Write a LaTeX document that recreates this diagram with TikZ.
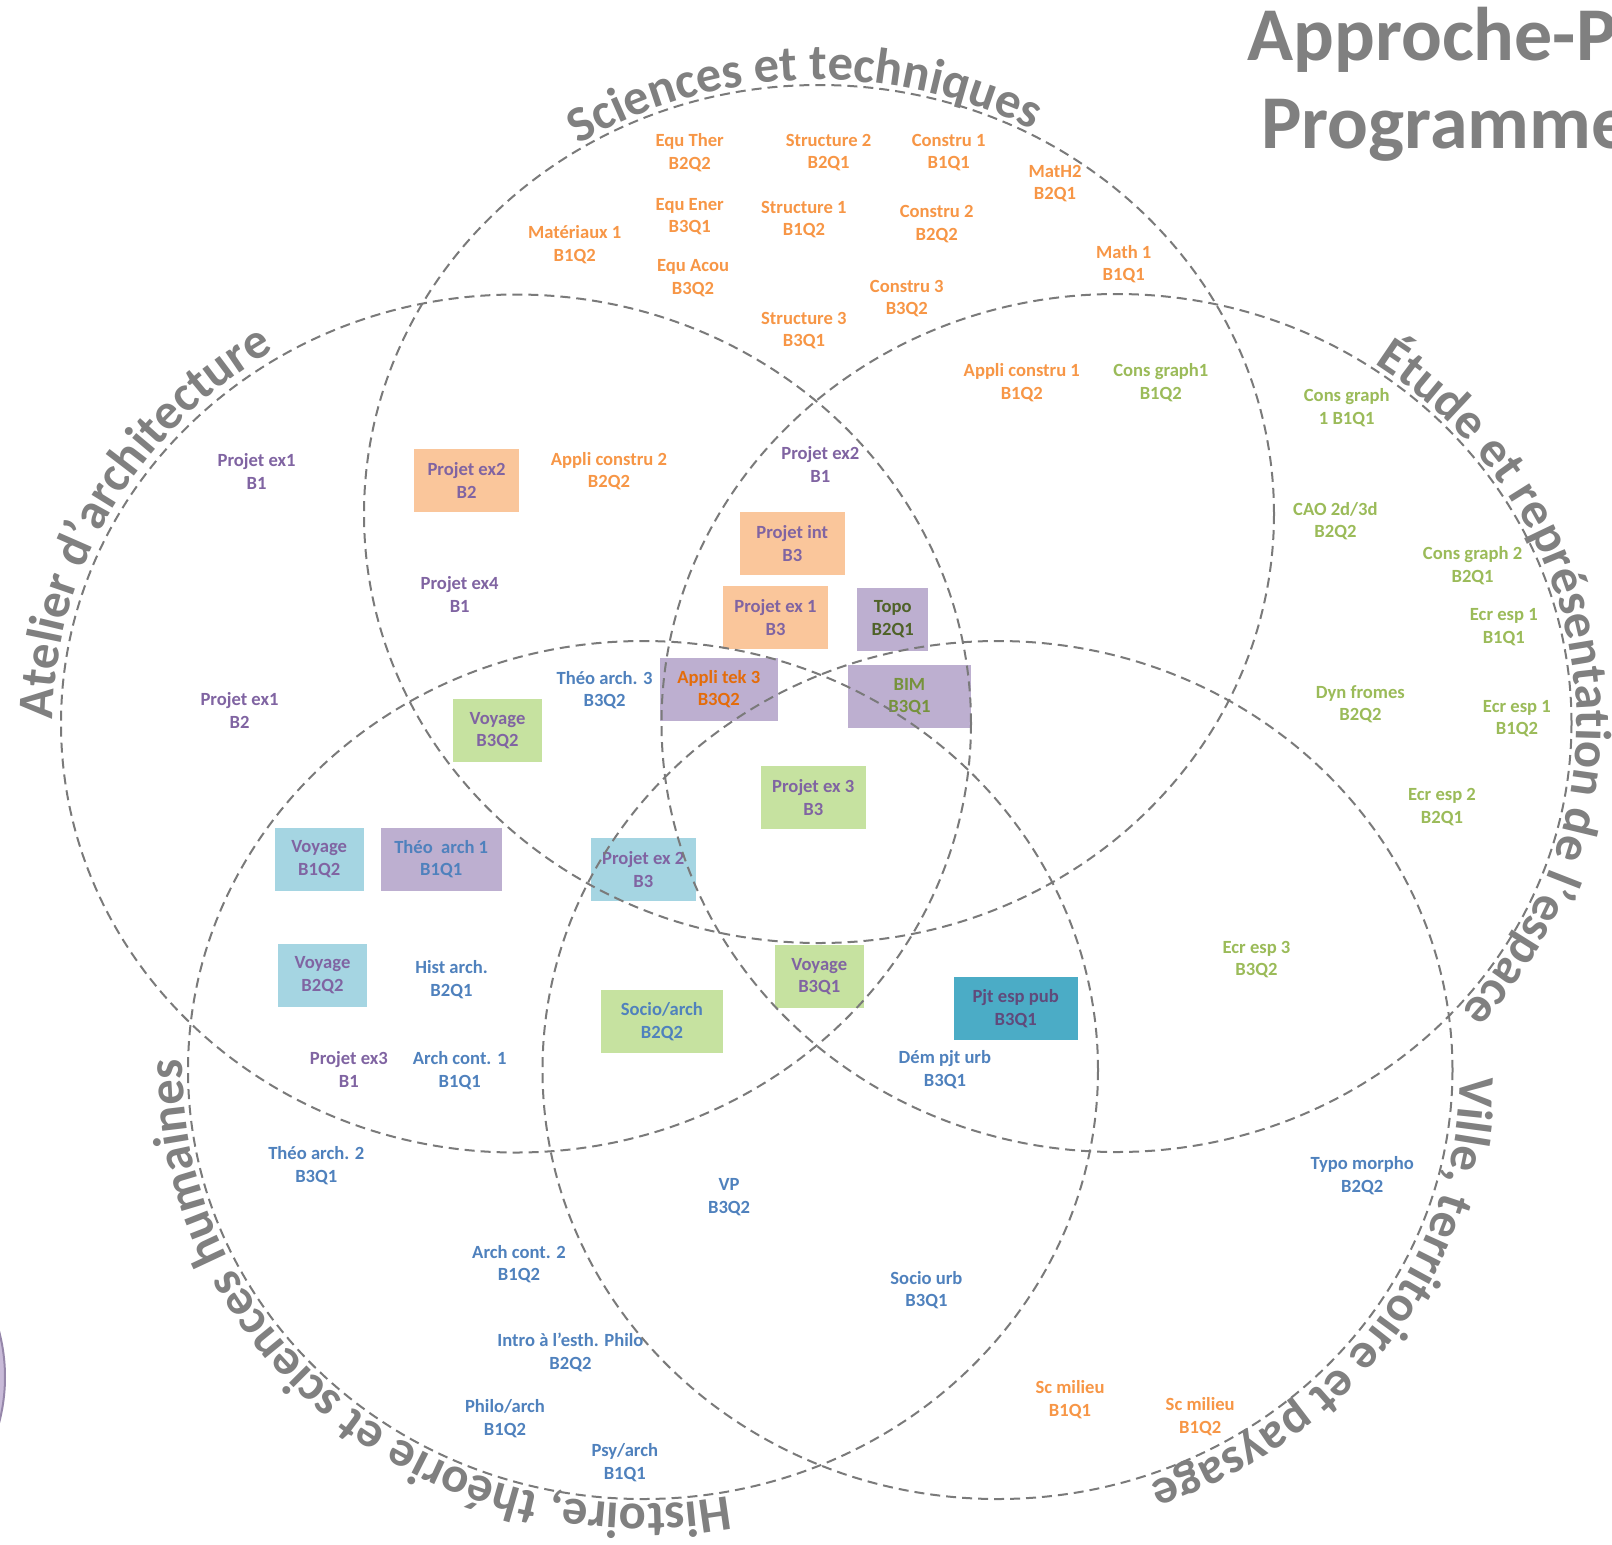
\documentclass[tikz,border=0pt]{standalone}
\usepackage{fontspec}
\setmainfont{Carlito}
\usetikzlibrary{decorations.text}
\definecolor{orgT}{RGB}{247,150,70}
\definecolor{purT}{RGB}{128,100,162}
\definecolor{grnT}{RGB}{155,187,89}
\definecolor{bluT}{RGB}{79,129,189}
\definecolor{topoT}{RGB}{79,98,40}
\definecolor{bimT}{RGB}{118,146,60}
\definecolor{tekT}{RGB}{228,108,10}
\definecolor{pjtT}{RGB}{96,74,123}
\definecolor{orgF}{RGB}{250,198,155}
\definecolor{purF}{RGB}{189,175,208}
\definecolor{grnF}{RGB}{198,226,160}
\definecolor{bluF}{RGB}{165,213,226}
\definecolor{tealF}{RGB}{75,172,198}
\definecolor{ttlgray}{RGB}{128,128,128}
\definecolor{lingray}{RGB}{122,122,122}
\definecolor{lpur}{RGB}{200,186,216}
\definecolor{lpurD}{RGB}{150,135,170}
\newcommand\ttlfont{\bfseries\fontsize{25.3}{29}\selectfont}
\newcommand\titlearc[6]{%
  \path[decorate,decoration={text along path,text={|\ttlfont|#6},text align=center,text color=ttlgray}]
    (#1,#2) ++({#5-85}:#3 and #4) arc[start angle={#5-85},end angle={#5+85},x radius=#3,y radius=#4];
}
\begin{document}
\begin{tikzpicture}[x=0.5pt,y=-0.5pt,
  lab/.style={align=center,inner sep=0pt,font=\bfseries\fontsize{9.3}{11.25}\selectfont},
  cbox/.style n args={3}{lab,fill=#1,text=#2,minimum width=#3*0.5pt,minimum height=31.5pt},
  venn/.style={draw=lingray,line width=1pt,dash pattern=on 5pt off 3pt},
  bigttl/.style={font=\bfseries\fontsize{38}{42}\selectfont,text=ttlgray,inner sep=0pt,anchor=base west}]
\useasboundingbox (0,0) rectangle (1612,1544);
\fill[white] (0,0) rectangle (1612,1544);
\clip (0,0) rectangle (1612,1544);

% partial circle at left edge
\draw[draw=lpurD,fill=lpur,line width=1pt] (-174,1377) circle[radius=179];

% main title
\node[bigttl] (t1) at (1247,60) {Approche-P};
\node[bigttl] (t2) at (1261,148) {Programme};

% boxes
\node[cbox={orgF}{purT}{105}] (bpex2) at (466.5,480.5) {Projet ex2\\B2};
\node[cbox={orgF}{purT}{105}] (bpint) at (792.3,543.3) {Projet int\\B3};
\node[cbox={orgF}{purT}{105}] (bpex1) at (775.5,617.3) {Projet ex 1\\B3};
\node[cbox={purF}{topoT}{71}] (btopo) at (892.7,619.3) {Topo\\B2Q1};
\node[cbox={purF}{tekT}{118}] (btek) at (718.8,689.3) {Appli tek 3\\B3Q2};
\node[cbox={purF}{bimT}{123}] (bbim) at (909.4,696.5) {BIM\\B3Q1};
\node[cbox={grnF}{purT}{89}] (bvoy32) at (497.5,730.5) {Voyage\\B3Q2};
\node[cbox={grnF}{purT}{105}] (bpex3) at (813.3,797.3) {Projet ex 3\\B3};
\node[cbox={bluF}{purT}{89}] (bvoy12) at (319.2,859.3) {Voyage\\B1Q2};
\node[cbox={purF}{bluT}{121}] (btheo1) at (441.2,859.3) {Théo\ \ arch 1\\B1Q1};
\node[cbox={bluF}{purT}{105}] (bpex2b3) at (643.3,869.3) {Projet ex 2\\B3};
\node[cbox={bluF}{purT}{89}] (bvoy22) at (322.5,975.3) {Voyage\\B2Q2};
\node[cbox={grnF}{purT}{89}] (bvoy31) at (819.3,976.5) {Voyage\\B3Q1};
\node[cbox={grnF}{bluT}{122}] (bsocio) at (661.9,1021.5) {Socio/arch\\B2Q2};
\node[cbox={tealF}{pjtT}{124}] (bpjt) at (1015.7,1008.5) {Pjt esp pub\\B3Q1};

% orange labels
\begin{scope}[every node/.style={lab,text=orgT}]
\node (eqther) at (689.7,152.8) {Equ Ther\\B2Q2};
\node (struc2) at (828.6,152.6) {Structure 2\\B2Q1};
\node (constr1) at (948.7,152.6) {Constru 1\\B1Q1};
\node (math2) at (1055,183.8) {MatH2\\B2Q1};
\node (eqener) at (689.7,216.7) {Equ Ener\\B3Q1};
\node (struc1) at (803.9,219.7) {Structure 1\\B1Q2};
\node (constr2) at (936.7,224.3) {Constru 2\\B2Q2};
\node (mat1) at (574.7,244.5) {Matériaux 1\\B1Q2};
\node (eqacou) at (693,278) {Equ Acou\\B3Q2};
\node (constr3) at (906.8,298.7) {Constru 3\\B3Q2};
\node (struc3) at (803.9,330.5) {Structure 3\\B3Q1};
\node (math1) at (1123.7,264.2) {Math 1\\B1Q1};
\node (appc1) at (1021.8,382.5) {Appli constru 1\\B1Q2};
\node (appc2) at (609,471) {Appli constru 2\\B2Q2};
\node (scm1) at (1070,1399.6) {Sc milieu\\B1Q1};
\node (scm2) at (1200.2,1416.5) {Sc milieu\\B1Q2};
\end{scope}

% green labels
\begin{scope}[every node/.style={lab,text=grnT}]
\node (cg1) at (1160.8,382.5) {Cons graph1\\B1Q2};
\node (cg1b) at (1346.7,407.7) {Cons graph\\1 B1Q1};
\node (cao) at (1335.4,521) {CAO 2d/3d\\B2Q2};
\node (cg2) at (1472.6,565.7) {Cons graph 2\\B2Q1};
\node (ecr1a) at (1503.8,627.2) {Ecr esp 1\\B1Q1};
\node (dyn) at (1360.4,704.3) {Dyn fromes\\B2Q2};
\node (ecr1b) at (1516.9,718.5) {Ecr esp 1\\B1Q2};
\node (ecr2) at (1442,807.2) {Ecr esp 2\\B2Q1};
\node (ecr3) at (1256.5,959.5) {Ecr esp 3\\B3Q2};
\end{scope}

% purple labels
\begin{scope}[every node/.style={lab,text=purT}]
\node (pex1a) at (256.6,471.3) {Projet ex1\\B1};
\node (pex4) at (459.7,594.3) {Projet ex4\\B1};
\node (pex1b) at (239.5,710.7) {Projet ex1\\B2};
\node (pex2b1) at (820.4,464.5) {Projet ex2\\B1};
\node (pex3b1) at (348.9,1069.5) {Projet ex3\\B1};
\end{scope}

% blue labels
\begin{scope}[every node/.style={lab,text=bluT}]
\node (theo3) at (604.6,690) {Théo arch. 3\\B3Q2};
\node (hist) at (451.5,979.5) {Hist arch.\\B2Q1};
\node (archc1) at (459.7,1070.7) {Arch cont. 1\\B1Q1};
\node (theo2) at (316.3,1165.5) {Théo arch. 2\\B3Q1};
\node (dem) at (944.9,1069.5) {Dém pjt urb\\B3Q1};
\node (typo) at (1362.2,1175.5) {Typo morpho\\B2Q2};
\node (vp) at (729.1,1197) {VP\\B3Q2};
\node (archc2) at (519,1264) {Arch cont. 2\\B1Q2};
\node (sociou) at (926.4,1290) {Socio urb\\B3Q1};
\node (intro) at (570.4,1352.5) {Intro à l’esth. Philo\\B2Q2};
\node (philo) at (505,1418.5) {Philo/arch\\B1Q2};
\node (psy) at (624.8,1462.7) {Psy/arch\\B1Q1};
\end{scope}

% Venn ellipses
\draw[venn] (819,514) ellipse[x radius=455,y radius=429];
\draw[venn] (516,723.5) ellipse[x radius=455,y radius=429];
\draw[venn] (1116.5,723) ellipse[x radius=455,y radius=429];
\draw[venn] (643,1070) ellipse[x radius=455,y radius=429];
\draw[venn] (997.5,1070) ellipse[x radius=455,y radius=429];

% curved titles
\titlearc{819}{514}{460}{434}{268}{Sciences et techniques}
\titlearc{516}{723.5}{463}{437}{208.5}{Atelier d’architecture}
\titlearc{1116.5}{723}{460}{434}{353}{Étude et représentation de l’espace}
\titlearc{997.5}{1070}{463}{437}{34.8}{Ville, territoire et paysage}
\titlearc{643}{1070}{460}{434}{131}{Histoire, théorie et sciences humaines}
\end{tikzpicture}
\end{document}
